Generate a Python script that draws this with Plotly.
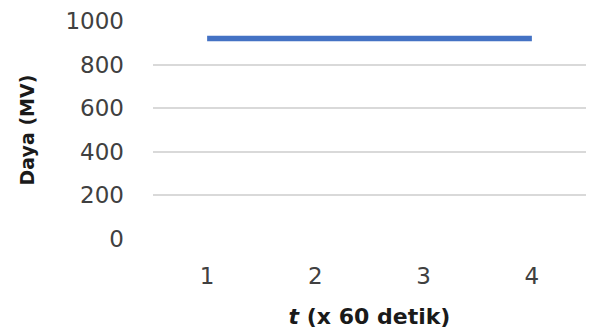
import plotly.graph_objects as go

# Power output over time
t_labels = ["1", "2", "3", "4"]
daya = [920, 920, 920, 920]

y_ticks = [0, 200, 400, 600, 800, 1000]

fig = go.Figure()
fig.add_trace(go.Scatter(
    x=t_labels,
    y=daya,
    mode="lines",
    line=dict(color="#4472C4", width=5.5),
    showlegend=False,
))

fig.update_layout(
    width=590,
    height=329,
    margin=dict(l=153, r=4, t=21, b=90),
    paper_bgcolor="white",
    plot_bgcolor="white",
    font=dict(family="DejaVu Sans", color="#404040"),
)

fig.update_xaxes(
    type="category",
    range=[-0.5, 3.5],
    showgrid=False,
    zeroline=False,
    showline=False,
    ticks="",
    tickfont=dict(size=23, color="#404040"),
    ticklabelstandoff=21,
    title=dict(
        text="<b><i>t</i> (x 60 detik)</b>",
        font=dict(size=22, color="#1a1a1a"),
        standoff=20,
    ),
)

fig.update_yaxes(
    range=[0, 1000],
    tickvals=y_ticks,
    showgrid=True,
    gridcolor="#D9D9D9",
    gridwidth=1.5,
    zeroline=False,
    showline=False,
    ticks="",
    tickfont=dict(size=23, color="#404040"),
    ticklabelstandoff=28,
    title=dict(
        text="<b>Daya (MV)</b>",
        font=dict(size=19, color="#1a1a1a"),
        standoff=25,
    ),
)

fig.write_html("out.html")
